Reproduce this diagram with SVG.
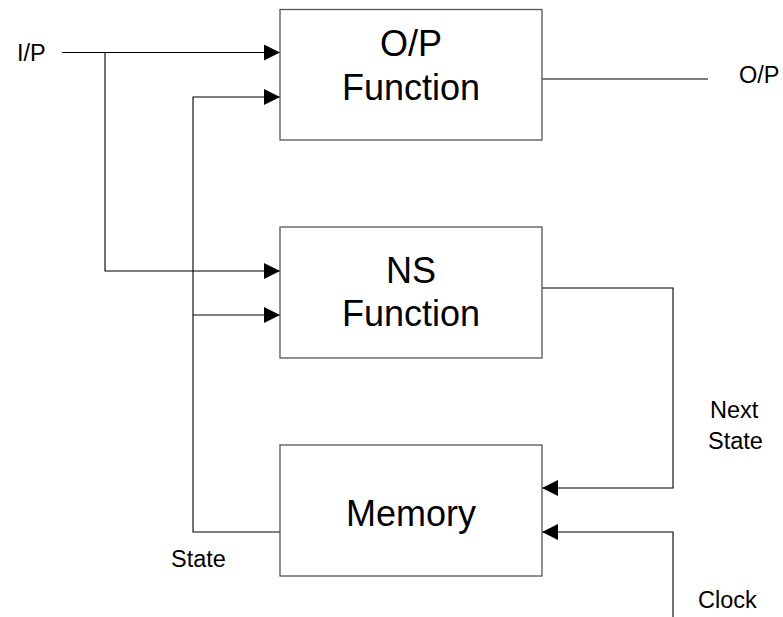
<svg xmlns="http://www.w3.org/2000/svg" width="783" height="617" viewBox="0 0 783 617">
<style>
.box{fill:#fff;stroke:#555;stroke-width:1.3}
.ln{fill:none;stroke:#000;stroke-width:1.1}
.big{font-family:"Liberation Sans",Arial,sans-serif;font-size:36px;text-anchor:middle;fill:#000}
.sm{font-family:"Liberation Sans",Arial,sans-serif;font-size:23.5px;fill:#000}
</style>
<defs>
<marker id="ar" markerWidth="16" markerHeight="16" refX="16" refY="8" orient="auto" markerUnits="userSpaceOnUse">
<path d="M0,0 L16,8 L0,16 Z" fill="#000"/>
</marker>
</defs>
<rect width="783" height="617" fill="#fff"/>
<g id="connectors">
<path class="ln" d="M62,52.5 H280" marker-end="url(#ar)"/>
<path class="ln" d="M105,52.5 V271 H280" marker-end="url(#ar)"/>
<path class="ln" d="M280,532 H193 V97 H280" marker-end="url(#ar)"/>
<path class="ln" d="M193,315 H280" marker-end="url(#ar)"/>
<path class="ln" d="M542,79 H708"/>
<path class="ln" d="M542,288 H673 V488 H542" marker-end="url(#ar)"/>
<path class="ln" d="M673,617 V532 H542" marker-end="url(#ar)"/>
</g>
<g id="op-function">
<rect class="box" x="280" y="9.5" width="262" height="130.5"/>
<text class="big" x="411" y="56">O/P</text>
<text class="big" x="411" y="100">Function</text>
</g>
<g id="ns-function">
<rect class="box" x="280" y="227" width="262" height="131"/>
<text class="big" x="411" y="283">NS</text>
<text class="big" x="411" y="326">Function</text>
</g>
<g id="memory">
<rect class="box" x="280" y="445" width="262" height="131"/>
<text class="big" x="411" y="526">Memory</text>
</g>
<g id="labels">
<text class="sm" x="17" y="61">I/P</text>
<text class="sm" x="739" y="83">O/P</text>
<text class="sm" x="710" y="418">Next</text>
<text class="sm" x="708" y="449">State</text>
<text class="sm" x="171" y="567">State</text>
<text class="sm" x="698" y="608">Clock</text>
</g>
</svg>
